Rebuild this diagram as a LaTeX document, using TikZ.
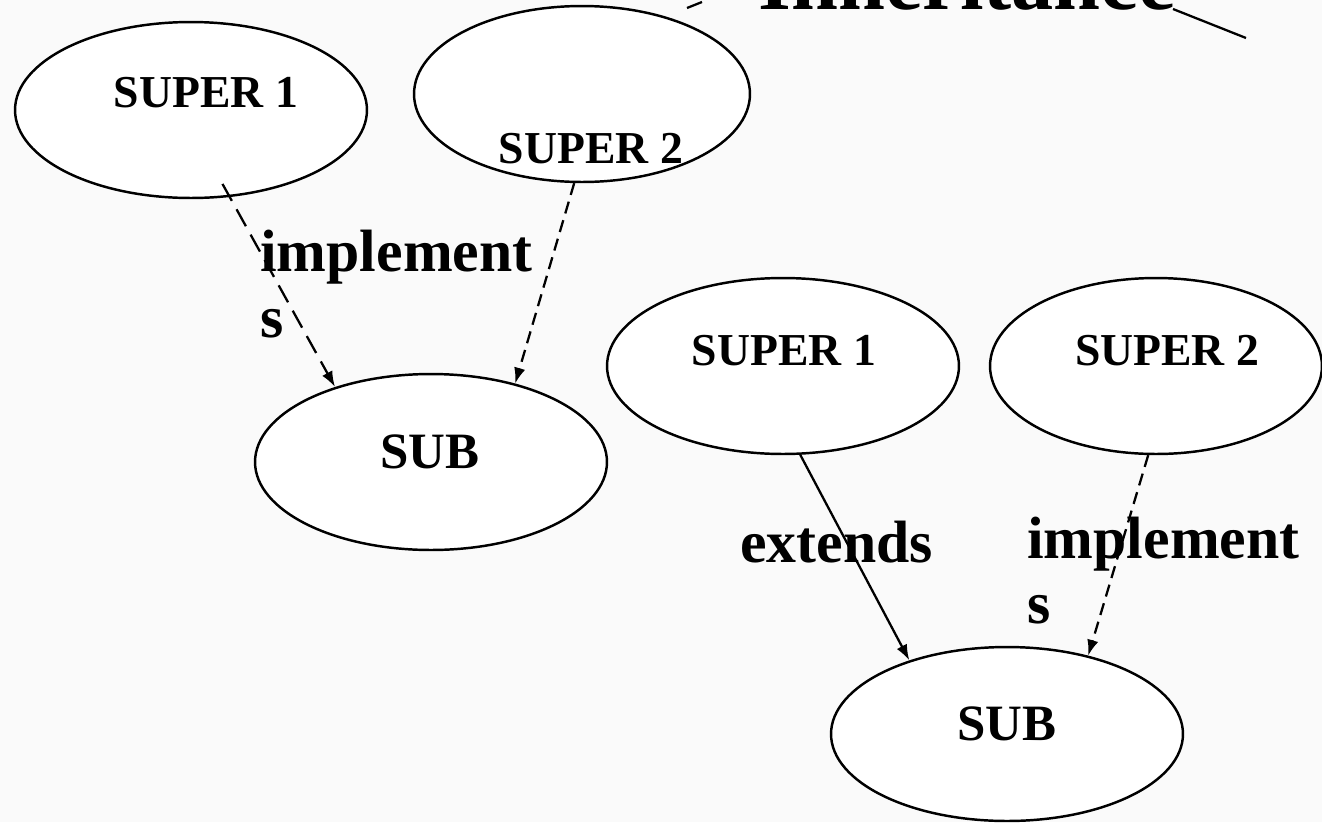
\documentclass[tikz,border=0pt]{standalone}
\usepackage{fontspec}
\setmainfont{Liberation Serif}
\usetikzlibrary{shapes,arrows,arrows.meta}
\tikzstyle{class} = [draw, ellipse, fill=white, line width=1.4pt, minimum width=7.04cm, minimum height=3.52cm]
\tikzstyle{classtext} = [font=\bfseries\fontsize{26}{30}\selectfont, inner sep=0pt, anchor=base]
\tikzstyle{subtext} = [classtext, font=\bfseries\fontsize{29}{33}\selectfont]
\tikzstyle{rel} = [font=\bfseries\fontsize{34}{37}\selectfont, inner sep=0pt, anchor=base west, align=left]
\tikzstyle{line} = [draw, line width=1.3pt, -{Latex[length=9pt,width=6.5pt]}]
\tikzstyle{longdash} = [line, dash pattern=on 11pt off 5.5pt]
\tikzstyle{shortdash} = [line, dash pattern=on 7pt off 4pt]

\begin{document}
\begin{tikzpicture}[x=0.02cm, y=-0.02cm]

    \useasboundingbox (0,0) rectangle (1322,822);
    \clip (0,0) rectangle (1322,822);
    \fill[black!2] (0,0) rectangle (1322,822);

    % Title, cut off at the top
    \node [font=\bfseries\fontsize{48}{52}\selectfont, inner sep=0pt, anchor=base] (title) at (967,9) {Inheritance};
    \draw [line width=1.3pt] (687,8) -- (702,2);
    \draw [line width=1.3pt] (1173,9) -- (1246,38);

    % Place nodes
    \node [class] (supL1) at (191,110) {};
    \node [class, minimum width=6.72cm] (supL2) at (582,94) {};
    \node [class] (subL) at (431,462) {};
    \node [class] (supR1) at (783,366) {};
    \node [class, minimum width=6.64cm] (supR2) at (1156,366) {};
    \node [class, minimum height=3.48cm] (subR) at (1007,734) {};

    \node [classtext] (tsupL1) at (206,107) {SUPER 1};
    \node [classtext] (tsupL2) at (591,163) {SUPER 2};
    \node [subtext] (tsubL) at (430,468) {SUB};
    \node [classtext] (tsupR1) at (784,365) {SUPER 1};
    \node [classtext] (tsupR2) at (1167,365) {SUPER 2};
    \node [subtext] (tsubR) at (1007,740) {SUB};

    % Draw edges
    \path [longdash, shorten <=-0.3cm] (supL1.-66) -- (subL.142);
    \path [shortdash] (supL2.-95) -- (subL.43.5);
    \path [line] (supR1.-79) -- (subR.143);
    \path [shortdash] (supR2.-95) -- (subR.44);

    % Edge labels (anchored at the baseline of the last line)
    \node [rel] (implL) at (260,337) {implement\\s};
    \node [rel] (ext) at (740,562) {extends};
    \node [rel] (implR) at (1027,623) {implement\\s};

\end{tikzpicture}
\end{document}
